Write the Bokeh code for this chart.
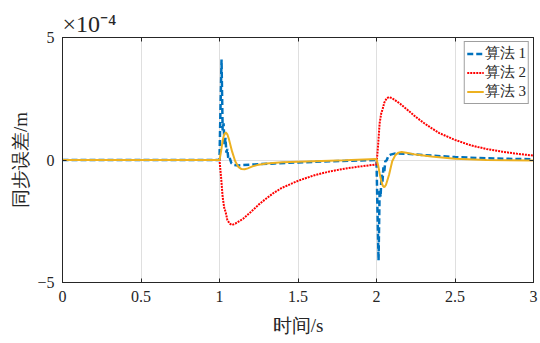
from bokeh.plotting import figure
from bokeh.models import FixedTicker, LinearAxis, Legend, LegendItem, Range1d, Title
from bokeh.embed import file_html
from bokeh.resources import INLINE

# values in units of 1e-4 m
t_alg1 = [0, 1.0, 1.006, 1.013, 1.02, 1.026, 1.032, 1.038, 1.044, 1.05, 1.056, 1.064, 1.075, 1.09, 1.12,
          1.2, 1.35, 1.5, 1.7, 1.9, 2.0, 2.006, 2.013, 2.02, 2.026, 2.032, 2.038, 2.044, 2.05, 2.056,
          2.064, 2.075, 2.09, 2.12, 2.2, 2.35, 2.5, 2.7, 2.9, 3.0]
e_alg1 = [0, 0, 2.0, 4.1, 1.2, 1.5, 0.6, 0.9, 0.3, 0.45, 0.05, 0.1, -0.12, -0.2, -0.22,
          -0.19, -0.14, -0.1, -0.05, -0.02, 0.0, -2.0, -4.1, -1.2, -1.5, -0.6, -0.9, -0.3, -0.45, -0.05,
          -0.02, 0.15, 0.22, 0.27, 0.25, 0.18, 0.12, 0.07, 0.04, 0.03]

t_alg2 = [0, 1.0, 1.01, 1.02, 1.03, 1.04, 1.05, 1.065, 1.08, 1.1, 1.15, 1.2, 1.25, 1.3, 1.35, 1.4,
          1.5, 1.6, 1.7, 1.8, 1.9, 2.0, 2.01, 2.02, 2.03, 2.04, 2.05, 2.065, 2.08, 2.1, 2.15, 2.2,
          2.25, 2.3, 2.35, 2.4, 2.5, 2.6, 2.7, 2.8, 2.9, 3.0]
e_alg2 = [0, 0, -0.7, -1.5, -1.95, -2.15, -2.45, -2.6, -2.65, -2.6, -2.4, -2.12, -1.82, -1.56, -1.32, -1.13,
          -0.85, -0.63, -0.47, -0.35, -0.26, -0.18, 0.6, 1.5, 1.9, 2.1, 2.35, 2.52, 2.57, 2.52, 2.3, 2.03,
          1.76, 1.52, 1.3, 1.1, 0.82, 0.6, 0.45, 0.34, 0.25, 0.18]

t_alg3 = [0, 1.0, 1.01, 1.02, 1.03, 1.04, 1.05, 1.06, 1.08, 1.1, 1.12, 1.14, 1.16, 1.18, 1.21, 1.25,
          1.3, 1.4, 1.6, 1.8, 2.0, 2.01, 2.02, 2.03, 2.04, 2.05, 2.06, 2.08, 2.1, 2.12, 2.14, 2.16,
          2.19, 2.25, 2.35, 2.5, 2.7, 3.0]
e_alg3 = [0, 0, 0.35, 0.8, 1.05, 1.13, 1.05, 0.85, 0.35, -0.05, -0.28, -0.37, -0.38, -0.34, -0.26, -0.19,
          -0.14, -0.09, -0.05, -0.01, 0.04, -0.2, -0.55, -0.85, -1.05, -1.11, -1.02, -0.6, -0.05, 0.2, 0.3, 0.33,
          0.3, 0.22, 0.14, 0.05, 0.0, -0.02]

series_labels = ["算法 1", "算法 2", "算法 3"]
x_ticks = [0, 0.5, 1, 1.5, 2, 2.5, 3]
x_tick_labels = ["0", "0.5", "1", "1.5", "2", "2.5", "3"]
y_ticks = [-5, 0, 5]
y_tick_labels = ["\u22125", "0", "5"]
scale_text = "\u00d710\u207b\u2074"

SERIF = "Liberation Serif"
AX = "#262626"

p = figure(width=540, height=343, output_backend="svg", toolbar_location=None,
           x_range=Range1d(0, 3), y_range=Range1d(-5, 5),
           min_border_left=62, min_border_right=7, min_border_top=37, min_border_bottom=61,
           background_fill_color="white", border_fill_color="white")
p.outline_line_color = AX
p.outline_line_width = 1

r1 = p.line(t_alg1, e_alg1, line_color="#0072BD", line_width=2.5, line_dash="6 3")
r2 = p.line(t_alg2, e_alg2, line_color="#FF0000", line_width=2, line_dash="2 1")
r3 = p.line(t_alg3, e_alg3, line_color="#EDB120", line_width=2)

xa = p.xaxis[0]
ya = p.yaxis[0]
xa.ticker = FixedTicker(ticks=x_ticks)
ya.ticker = FixedTicker(ticks=y_ticks)
xa.major_label_overrides = dict(zip(x_ticks, x_tick_labels))
ya.major_label_overrides = dict(zip(y_ticks, y_tick_labels))
for ax in (xa, ya):
    ax.major_tick_in = 4
    ax.major_tick_out = 0
    ax.minor_tick_in = 0
    ax.minor_tick_out = 0
    ax.axis_line_color = AX
    ax.major_tick_line_color = AX
    ax.major_label_text_font = SERIF
    ax.major_label_text_font_size = "16px"
    ax.major_label_text_color = AX
    ax.axis_label_text_font = SERIF
    ax.axis_label_text_font_size = "19px"
    ax.axis_label_text_font_style = "normal"
    ax.axis_label_text_color = AX
xa.axis_label = "时间/s"
ya.axis_label = "同步误差/m"
xa.major_label_standoff = 8
ya.major_label_standoff = 8
xa.axis_label_standoff = 10
ya.axis_label_standoff = 3

# box ticks on top and right (minor ticks only, so no labels)
for loc, tk in (("above", x_ticks), ("right", y_ticks)):
    ax = LinearAxis(ticker=FixedTicker(ticks=[], minor_ticks=tk),
                    major_tick_in=0, major_tick_out=0, minor_tick_in=4, minor_tick_out=0,
                    axis_line_color=AX, minor_tick_line_color=AX)
    p.add_layout(ax, loc)

p.add_layout(Title(text=scale_text, align="left", standoff=2, text_font=SERIF,
                   text_font_size="24px", text_font_style="normal", text_color=AX), "above")

p.xgrid.ticker = FixedTicker(ticks=x_ticks)
p.ygrid.ticker = FixedTicker(ticks=y_ticks)
p.xgrid.grid_line_color = "#DFDFDF"
p.ygrid.grid_line_color = "#DFDFDF"

legend = Legend(items=[LegendItem(label=series_labels[0], renderers=[r1]),
                       LegendItem(label=series_labels[1], renderers=[r2]),
                       LegendItem(label=series_labels[2], renderers=[r3])],
                location="top_right", margin=4, padding=2, spacing=0,
                glyph_width=17, glyph_height=19, label_height=19, label_standoff=1,
                label_text_font=SERIF, label_text_font_size="15px", label_text_color=AX,
                border_line_color="#404040", border_line_width=1,
                background_fill_color="white", background_fill_alpha=1)
p.add_layout(legend)

open("out.html", "w").write(file_html(p, INLINE))
